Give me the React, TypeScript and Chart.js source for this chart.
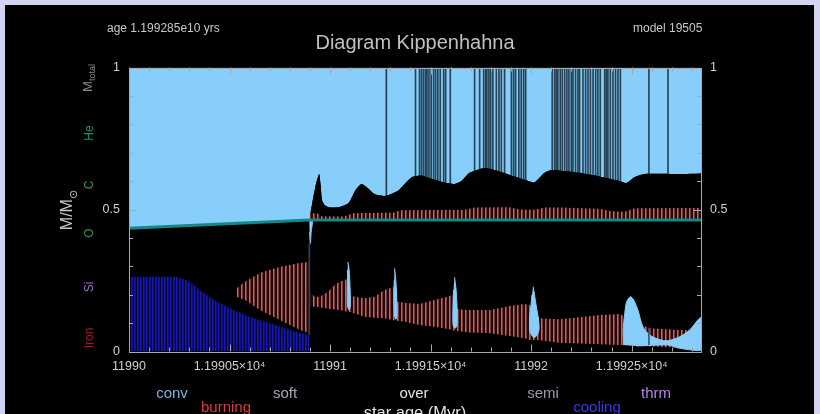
import React, { useEffect, useRef } from "react";
import { Chart, registerables } from "chart.js";

Chart.register(...registerables);

// ---------- axes ----------
const AGE_MIN = 11990;
const AGE_MAX = 11992.845;
const xTickValues = [11990, 11990.5, 11991, 11991.5, 11992, 11992.5];
const xTickLabels = ["11990", "1.19905×10⁴", "11991", "1.19915×10⁴", "11992", "1.19925×10⁴"];
const yTickValues = [0, 0.5, 1];
const yTickLabels = ["0", "0.5", "1"];

// ---------- He core boundary ----------
const heCoreAge = [11990, 11990.898, 11992.845];
const heCoreMass = [0.434, 0.463, 0.463];

// ---------- bottom of the convective envelope ----------
const envAge = [11990, 11990.898, 11990.903, 11990.914, 11990.931, 11990.946, 11990.953, 11990.96, 11990.973, 11990.998,
  11991.047, 11991.092, 11991.127, 11991.157, 11991.187, 11991.221, 11991.276, 11991.336, 11991.371, 11991.41,
  11991.455, 11991.495, 11991.57, 11991.62, 11991.654, 11991.694, 11991.769, 11991.843, 11991.918, 11991.993,
  11992.017, 11992.067, 11992.102, 11992.241, 11992.341, 11992.44, 11992.475, 11992.515, 11992.565, 11992.739, 11992.845];
const envMass = [0.434, 0.463, 0.488, 0.533, 0.593, 0.625, 0.586, 0.533, 0.516, 0.507,
  0.509, 0.523, 0.569, 0.59, 0.576, 0.555, 0.548, 0.565, 0.59, 0.615,
  0.62, 0.611, 0.595, 0.59, 0.6, 0.629, 0.646, 0.634, 0.616, 0.599,
  0.595, 0.629, 0.639, 0.629, 0.616, 0.6, 0.593, 0.614, 0.625, 0.625, 0.627];

// thin radiative streaks inside the envelope
const envStreakAge = [11991.28, 11991.425, 11991.445, 11991.455, 11991.465, 11991.475, 11991.482, 11991.492, 11991.503,
  11991.515, 11991.525, 11991.536, 11991.548, 11991.565, 11991.575, 11991.598, 11991.719, 11991.744, 11991.764,
  11991.774, 11991.78, 11991.79, 11991.799, 11991.81, 11991.827, 11991.84, 11991.852, 11991.868, 11991.902,
  11991.913, 11991.923, 11991.939, 11991.951, 11991.963, 11991.973, 11992.105, 11992.117, 11992.125, 11992.133,
  11992.145, 11992.155, 11992.167, 11992.178, 11992.188, 11992.2, 11992.208, 11992.221, 11992.233, 11992.241,
  11992.258, 11992.271, 11992.283, 11992.295, 11992.308, 11992.321, 11992.332, 11992.344, 11992.366, 11992.374,
  11992.382, 11992.394, 11992.407, 11992.42, 11992.432, 11992.444, 11992.586, 11992.681];

// ---------- H-burning shell (above He core) ----------
const hShellAge = [11990.898, 11990.938, 11990.958, 11991.072, 11991.112, 11991.321, 11991.346, 11991.669, 11991.719,
  11991.893, 11991.943, 11992.017, 11992.067, 11992.142, 11992.341, 11992.4, 11992.465, 11992.515, 11992.845];
const hShellTop = [0.488, 0.486, 0.476, 0.475, 0.487, 0.489, 0.497, 0.499, 0.507,
  0.508, 0.5, 0.499, 0.507, 0.507, 0.503, 0.494, 0.492, 0.504, 0.505];

// ---------- burning lens before the flash ----------
const lensAge = [11990.535, 11990.537, 11990.577, 11990.652, 11990.751, 11990.851, 11990.896];
const lensTop = [0.21, 0.223, 0.2447, 0.2764, 0.2975, 0.3116, 0.3151];
const lensBottom = [0.21, 0.193, 0.1813, 0.1461, 0.1109, 0.0757, 0.0651];

// ---------- burning band after the flash ----------
const bandAge = [11990.903, 11990.923, 11990.948, 11990.973, 11990.998, 11991.022, 11991.047, 11991.082, 11991.097,
  11991.122, 11991.172, 11991.221, 11991.271, 11991.316, 11991.331, 11991.371, 11991.445, 11991.52, 11991.595,
  11991.614, 11991.634, 11991.694, 11991.794, 11991.893, 11991.968, 11991.993, 11992.042, 11992.142, 11992.241,
  11992.341, 11992.44, 11992.59, 11992.739, 11992.845];
const bandTop = [0.2106, 0.193, 0.193, 0.2025, 0.2165, 0.234, 0.2458, 0.2542, 0.199,
  0.193, 0.1873, 0.193, 0.2165, 0.2282, 0.1754, 0.1718, 0.1673, 0.1813, 0.1954,
  0.199, 0.1486, 0.1461, 0.1461, 0.1602, 0.1673, 0.1637, 0.1169, 0.1134, 0.1204,
  0.1285, 0.132, 0.0817, 0.0757, 0.075];
const bandBottom = [0.1602, 0.158, 0.1556, 0.153, 0.15, 0.148, 0.1461, 0.141, 0.139,
  0.134, 0.1225, 0.119, 0.1169, 0.11, 0.108, 0.1049, 0.0933, 0.087, 0.078,
  0.074, 0.072, 0.067, 0.0641, 0.0546, 0.0465, 0.0405, 0.04, 0.031, 0.028,
  0.0254, 0.0229, 0.018, 0.013, 0.011];

// ---------- convective core ----------
const coreAge = [11990, 11990.236, 11990.301, 11990.351, 11990.425, 11990.5, 11990.6, 11990.699, 11990.799, 11990.896];
const coreTop = [0.262, 0.262, 0.245, 0.217, 0.181, 0.153, 0.122, 0.1, 0.076, 0.058];

// ---------- convective drops (outlines) ----------
const drop0Age = [11990.897, 11990.912, 11990.906, 11990.902, 11990.898];
const drop0Mass = [0.462, 0.462, 0.42, 0.38, 0.42];
const drop1Age = [11991.089, 11991.095, 11991.1, 11991.101, 11991.095, 11991.087, 11991.086, 11991.087];
const drop1Mass = [0.3151, 0.287, 0.2165, 0.1637, 0.1461, 0.1602, 0.2165, 0.287];
const drop2Age = [11991.321, 11991.327, 11991.332, 11991.333, 11991.328, 11991.321, 11991.318, 11991.319];
const drop2Mass = [0.293, 0.2518, 0.1813, 0.1285, 0.1134, 0.125, 0.1813, 0.2518];
const drop3Age = [11991.619, 11991.627, 11991.632, 11991.631, 11991.622, 11991.612, 11991.611, 11991.614];
const drop3Mass = [0.2613, 0.2165, 0.1461, 0.0933, 0.0817, 0.0933, 0.1461, 0.2165];
const drop4Age = [11992.01, 11992.017, 11992.027, 11992.037, 11992.039, 11992.027, 11992.012, 11991.995, 11991.992, 11991.998, 11992.004];
const drop4Mass = [0.2282, 0.199, 0.1532, 0.1109, 0.0757, 0.0546, 0.05, 0.0687, 0.1109, 0.1532, 0.199];
const drop5Age = [11992.46, 11992.458, 11992.465, 11992.475, 11992.494, 11992.51, 11992.531, 11992.556, 11992.59,
  11992.639, 11992.679, 11992.739, 11992.788, 11992.845, 11992.845, 11992.739, 11992.679, 11992.525];
const drop5Mass = [0.0229, 0.0757, 0.1285, 0.1743, 0.193, 0.1813, 0.1461, 0.0873, 0.0581,
  0.0423, 0.038, 0.0521, 0.0757, 0.118, 0.0053, 0.0113, 0.0229, 0.0194];

// streaks in the core region
const lowStreakAge = [11990.897, 11992.586];
const lowStreakBottom = [0.06, 0.024];
const lowStreakTop = [0.38, 0.083];

const pts = (xs: number[], ys: number[]) => xs.map((x, i) => ({ x, y: ys[i] }));

function makePattern(colors: string[]) {
  const c = document.createElement("canvas");
  c.width = colors.length;
  c.height = 1;
  const g = c.getContext("2d")!;
  colors.forEach((col, i) => {
    g.fillStyle = col;
    g.fillRect(i, 0, 1, 1);
  });
  return g.createPattern(c, "repeat")!;
}

const SKY = "#87cefa";
const FONT = "'Liberation Sans', 'DejaVu Sans', sans-serif";

const frameTicks = {
  id: "frameTicks",
  afterDraw(chart: any) {
    const { ctx, chartArea: a, scales } = chart;
    const xs = scales.x, ys = scales.y;
    ctx.save();
    ctx.strokeStyle = "#a8a8a8";
    ctx.lineWidth = 1;
    const seg = (x1: number, y1: number, x2: number, y2: number) => {
      ctx.beginPath(); ctx.moveTo(x1, y1); ctx.lineTo(x2, y2); ctx.stroke();
    };
    for (let i = 0; ; i++) {
      const v = AGE_MIN + i * 0.1;
      if (v > AGE_MAX + 1e-9) break;
      const px = Math.round(xs.getPixelForValue(v)) + 0.5;
      const len = i % 5 === 0 ? 7 : 4;
      seg(px, a.bottom, px, a.bottom - len);
      seg(px, a.top, px, a.top + len);
    }
    for (let i = 0; i <= 10; i++) {
      const py = Math.round(ys.getPixelForValue(i / 10)) + 0.5;
      const len = i % 5 === 0 ? 7 : 4;
      seg(a.left, py, a.left + len, py);
      seg(a.right, py, a.right - len, py);
    }
    ctx.strokeRect(Math.round(a.left) + 0.5, Math.round(a.top) + 0.5, Math.round(a.width), Math.round(a.height));
    ctx.restore();
  },
};

function Label(p: { x: number; y: number; color: string; size: number; rot?: boolean; children: any; align?: string }) {
  const tx = p.align === "left" ? "translate(0,-50%)" : "translate(-50%,-50%)";
  return (
    <div
      style={{
        position: "absolute",
        left: p.x,
        top: p.y,
        transform: tx + (p.rot ? " rotate(-90deg)" : ""),
        color: p.color,
        fontSize: p.size,
        fontFamily: FONT,
        whiteSpace: "nowrap",
        lineHeight: 1,
      }}
    >
      {p.children}
    </div>
  );
}

export default function App() {
  const ref = useRef<HTMLCanvasElement>(null);

  useEffect(() => {
    const canvas = ref.current!;
    const redPat = makePattern(["#d65e5e", "#803434", "#1e0707", "#1e0707"]);
    const bluePat = makePattern(["#1616a8", "#0e0e92", "#000020"]);
    const line = (data: any[], extra: any) => ({
      type: "line",
      data,
      pointRadius: 0,
      borderWidth: 0,
      tension: 0,
      ...extra,
    });
    const drop = (xs: number[], ys: number[]) =>
      line(pts(xs, ys), { fill: "shape", backgroundColor: SKY, borderColor: SKY, borderWidth: 1, tension: 0.3, order: 10 });

    const chart = new Chart(canvas, {
      type: "line",
      data: {
        datasets: [
          line(pts(envAge, envMass), { fill: "end", backgroundColor: SKY, order: 20, tension: 0.2 }),
          {
            type: "bar",
            data: envStreakAge.map((a) => ({ x: a, y: [0.45, 1] })),
            backgroundColor: "rgba(22,42,58,0.85)",
            barThickness: 1,
            grouped: false,
            order: 19,
          },
          line(pts(envAge, envMass), { fill: "origin", backgroundColor: "#000000", order: 18, tension: 0.2 }),
          line(pts(hShellAge, hShellTop), { fill: { value: 0.463 }, backgroundColor: redPat, order: 15 }),
          line(pts(lensAge, lensTop), { fill: "+1", backgroundColor: redPat, order: 15, tension: 0.2 }),
          line(pts(lensAge, lensBottom), { fill: false, order: 15, tension: 0.2 }),
          line(pts(bandAge, bandTop), { fill: "+1", backgroundColor: redPat, order: 15 }),
          line(pts(bandAge, bandBottom), { fill: false, order: 15 }),
          line(pts(coreAge, coreTop), { fill: "origin", backgroundColor: bluePat, order: 15, tension: 0.2 }),
          drop(drop0Age, drop0Mass),
          drop(drop1Age, drop1Mass),
          drop(drop2Age, drop2Mass),
          drop(drop3Age, drop3Mass),
          drop(drop4Age, drop4Mass),
          drop(drop5Age, drop5Mass),
          {
            type: "bar",
            data: lowStreakAge.map((a, i) => ({ x: a, y: [lowStreakBottom[i], lowStreakTop[i]] })),
            backgroundColor: "rgba(50,75,95,0.9)",
            barThickness: 1,
            grouped: false,
            order: 8,
          },
          line(pts(heCoreAge, heCoreMass), { fill: false, borderColor: "#158787", borderWidth: 3, order: 1 }),
        ] as any,
      },
      options: {
        animation: false,
        responsive: false,
        devicePixelRatio: 1,
        layout: { padding: { top: 62.5, left: 0, right: 0, bottom: 0 } },
        plugins: { legend: { display: false }, tooltip: { enabled: false }, title: { display: false } },
        scales: {
          x: {
            type: "linear",
            min: AGE_MIN,
            max: AGE_MAX,
            offset: false,
            grid: { display: false, drawTicks: false },
            border: { display: false },
            afterFit: (s: any) => { s.height = 62.5; },
            afterBuildTicks: (s: any) => { s.ticks = xTickValues.map((v) => ({ value: v })); },
            ticks: {
              autoSkip: false,
              maxRotation: 0,
              padding: 8,
              color: "#cfcfcf",
              font: { family: FONT, size: 12.5 },
              callback: (v: any) => xTickLabels[xTickValues.indexOf(Number(v))] ?? "",
            },
          },
          y: {
            type: "linear",
            position: "left",
            min: 0,
            max: 1,
            grid: { display: false, drawTicks: false },
            border: { display: false },
            afterFit: (s: any) => { s.width = 124; },
            afterBuildTicks: (s: any) => { s.ticks = yTickValues.map((v) => ({ value: v })); },
            ticks: {
              padding: 9,
              color: "#cfcfcf",
              font: { family: FONT, size: 12.5 },
              callback: (v: any) => yTickLabels[yTickValues.indexOf(Number(v))] ?? "",
            },
          },
          y2: {
            type: "linear",
            position: "right",
            min: 0,
            max: 1,
            grid: { display: false, drawTicks: false },
            border: { display: false },
            afterFit: (s: any) => { s.width = 113; },
            afterBuildTicks: (s: any) => { s.ticks = yTickValues.map((v) => ({ value: v })); },
            ticks: {
              padding: 9,
              color: "#cfcfcf",
              font: { family: FONT, size: 12.5 },
              callback: (v: any) => yTickLabels[yTickValues.indexOf(Number(v))] ?? "",
            },
          },
        },
      } as any,
      plugins: [frameTicks],
    });
    return () => chart.destroy();
  }, []);

  return (
    <div style={{ position: "fixed", left: 0, top: 0, width: 820, height: 414, background: "#d3d3f2", overflow: "hidden" }}>
      <div style={{ position: "absolute", left: 5, top: 5, width: 809, height: 409, background: "#000" }}>
        <canvas ref={ref} width={809} height={409} style={{ display: "block" }} />
      </div>
      <Label x={107} y={28} color="#c8c8c8" size={12} align="left">age 1.199285e10 yrs</Label>
      <Label x={633} y={28} color="#c8c8c8" size={12} align="left">model 19505</Label>
      <Label x={415} y={42} color="#c0c0c0" size={20}>Diagram Kippenhahna</Label>

      <Label x={69} y={210} color="#c8c8c8" size={16} rot>
        M/M<sub style={{ fontSize: 11 }}>⊙</sub>
      </Label>
      <Label x={89} y={78} color="#8a8a8a" size={13} rot>
        M<sub style={{ fontSize: 9 }}>total</sub>
      </Label>
      <Label x={89} y={133} color="#1d9080" size={12} rot>He</Label>
      <Label x={89} y={185} color="#3c9450" size={12} rot>C</Label>
      <Label x={89} y={233} color="#2a9444" size={12} rot>O</Label>
      <Label x={89} y={287} color="#a070c8" size={12} rot>Si</Label>
      <Label x={89} y={338} color="#a81428" size={12} rot>Iron</Label>

      <Label x={172} y={392} color="#7fb2e2" size={15}>conv</Label>
      <Label x={285} y={392} color="#a0a8b8" size={15}>soft</Label>
      <Label x={414} y={392} color="#e6e6d8" size={15}>over</Label>
      <Label x={543} y={392} color="#9a9aaa" size={15}>semi</Label>
      <Label x={656} y={392} color="#b284e4" size={15}>thrm</Label>
      <Label x={226} y={406} color="#e23a3a" size={15}>burning</Label>
      <Label x={597} y={406} color="#3a3aea" size={15}>cooling</Label>
      <Label x={415} y={412} color="#e4e4e4" size={16.5}>star age (Myr)</Label>
    </div>
  );
}
